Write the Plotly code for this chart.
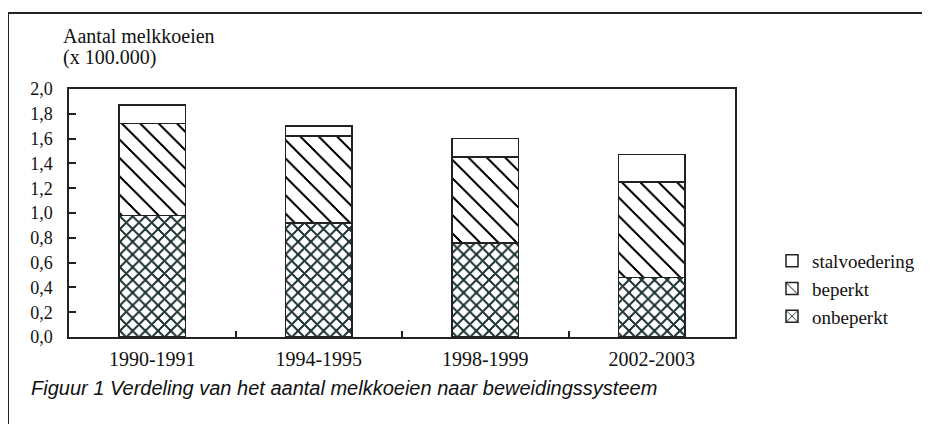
import plotly.graph_objects as go

periods = ["1990-1991", "1994-1995", "1998-1999", "2002-2003"]
onbeperkt = [0.98, 0.92, 0.76, 0.48]
beperkt = [0.74, 0.70, 0.69, 0.77]
stalvoedering = [0.15, 0.08, 0.15, 0.22]
y_ticks = [0.0, 0.2, 0.4, 0.6, 0.8, 1.0, 1.2, 1.4, 1.6, 1.8, 2.0]

SERIF = "Liberation Serif, Times New Roman, serif"
LINE = "#222222"
TXT = "#111111"

fig = go.Figure()
fig.add_bar(
    x=periods, y=onbeperkt, name="onbeperkt",
    marker=dict(color="white", line=dict(color=LINE, width=1.5),
                pattern=dict(shape="x", fgcolor="#243a3a", fgopacity=1,
                             bgcolor="white", fillmode="replace",
                             size=9, solidity=0.32)),
)
fig.add_bar(
    x=periods, y=beperkt, name="beperkt",
    marker=dict(color="white", line=dict(color=LINE, width=1.5),
                pattern=dict(shape="\\", fgcolor="#000000", fgopacity=1,
                             bgcolor="white", fillmode="replace",
                             size=13, solidity=0.16)),
)
fig.add_bar(
    x=periods, y=stalvoedering, name="stalvoedering",
    marker=dict(color="white", line=dict(color=LINE, width=1.5)),
)

# The page body has an 8px margin, so figure px = screen px - 8
W, H = 930, 424
L, R, T, B = 61, 203, 81, 95
pw, ph = W - L - R, H - T - B


def px_x(p):
    return (p - L) / pw


def px_y(p):
    return (H - B - p) / ph


fig.update_layout(
    width=W, height=H,
    barmode="stack", bargap=0.6,
    separators=",.",
    paper_bgcolor="white", plot_bgcolor="white",
    margin=dict(l=L, r=R, t=T, b=B),
    font=dict(family=SERIF, size=18, color=TXT),
    showlegend=True,
    legend=dict(
        x=px_x(764), y=px_y(234), xanchor="left", yanchor="top",
        traceorder="reversed", font=dict(family=SERIF, size=19, color=TXT),
        bgcolor="rgba(0,0,0,0)", itemwidth=30, tracegroupgap=0,
    ),
    xaxis=dict(
        showline=True, linecolor=LINE, linewidth=1.5, mirror=True,
        ticks="inside", ticklen=6, tickcolor=LINE, tickwidth=1.5,
        tickson="boundaries", showgrid=False,
        tickfont=dict(family=SERIF, size=20, color=TXT),
        ticklabelstandoff=3,
    ),
    yaxis=dict(
        range=[0, 2.0], tickvals=y_ticks, tickformat=".1f",
        showline=True, linecolor=LINE, linewidth=1.5, mirror=True,
        ticks="inside", ticklen=7, tickcolor=LINE, tickwidth=1.5,
        showgrid=False, zeroline=False,
        tickfont=dict(family=SERIF, size=18, color=TXT),
        ticklabelstandoff=11,
    ),
    annotations=[
        dict(
            text="Aantal melkkoeien", xref="paper", yref="paper",
            x=px_x(53), y=px_y(41), xanchor="left", yanchor="bottom",
            align="left", showarrow=False,
            font=dict(family=SERIF, size=20, color=TXT),
        ),
        dict(
            text="(x 100.000)", xref="paper", yref="paper",
            x=px_x(53), y=px_y(63), xanchor="left", yanchor="bottom",
            align="left", showarrow=False,
            font=dict(family=SERIF, size=20, color=TXT),
        ),
        dict(
            text="<i>Figuur 1 Verdeling van het aantal melkkoeien naar beweidingssysteem</i>",
            xref="paper", yref="paper", x=px_x(21), y=px_y(393),
            xanchor="left", yanchor="bottom", showarrow=False,
            font=dict(family="Liberation Sans, Arial, sans-serif", size=20, color=TXT),
        ),
    ],
    shapes=[
        dict(type="line", xref="paper", yref="paper",
             x0=px_x(0), x1=px_x(0), y0=px_y(5), y1=px_y(430),
             line=dict(color=LINE, width=2)),
        dict(type="line", xref="paper", yref="paper",
             x0=px_x(0), x1=px_x(935), y0=px_y(5), y1=px_y(5),
             line=dict(color=LINE, width=2)),
    ],
)

crisp = (
    "var s=document.createElement('style');"
    "s.textContent='pattern path{shape-rendering:crispEdges;}';"
    "document.head.appendChild(s);"
)
fig.write_html("out.html", post_script=crisp)
